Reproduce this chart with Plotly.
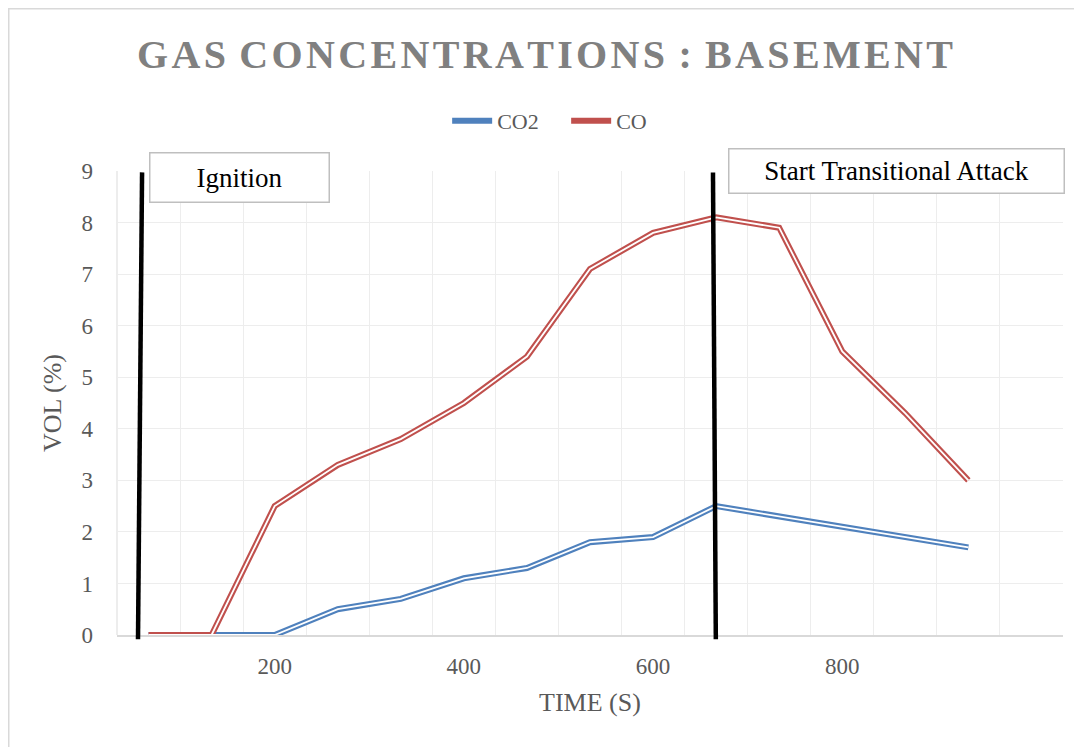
import plotly.graph_objects as go

time_s = [66.7, 133.3, 200, 266.7, 333.3, 400, 466.7, 533.3, 600, 666.7, 733.3, 800, 866.7, 933.3]
co2 = [0.0, 0.0, 0.0, 0.5, 0.7, 1.1, 1.3, 1.8, 1.9, 2.5, 2.3, 2.1, 1.9, 1.7]
co = [0.0, 0.0, 2.5, 3.3, 3.8, 4.5, 5.4, 7.1, 7.8, 8.1, 7.9, 5.5, 4.3, 3.0]
x_ticks = [200, 400, 600, 800]
y_ticks = list(range(0, 10))
title_words = ["GAS", "CONCENTRATIONS", ":", "BASEMENT"]

BLUE = "#4f81bd"
RED = "#c0504d"
FONT = "Liberation Serif"
GRAY_TXT = "#595959"

HS = "&#8202;"  # hair space for letter spacing
title_text = (" " + HS).join(HS.join(list(w)) for w in title_words)

fig = go.Figure()
for name, vals, col in [("CO2", co2, BLUE), ("CO", co, RED)]:
    fig.add_trace(go.Scatter(x=time_s, y=vals, mode="lines", name=name,
                             line=dict(color=col, width=6), legendgroup=name))
for name, vals, col in [("CO2", co2, BLUE), ("CO", co, RED)]:
    fig.add_trace(go.Scatter(x=time_s, y=vals, mode="lines", name=name + " ",
                             line=dict(color="white", width=1.8), showlegend=False,
                             hoverinfo="skip", legendgroup=name))

# event markers (paper coordinates)
events = [
    dict(label="Ignition", x_bot=0.0222, x_top=0.0265, box_x=0.130, box_y=0.985, w=178, h=48),
    dict(label="Start Transitional Attack", x_bot=0.633, x_top=0.630, box_x=0.8235, box_y=1.001, w=334, h=43),
]
for ev in events:
    fig.add_shape(type="line", xref="paper", yref="paper", x0=ev["x_bot"], y0=-0.009,
                  x1=ev["x_top"], y1=0.997, line=dict(color="black", width=4.5), layer="above")
    fig.add_annotation(xref="paper", yref="paper", x=ev["box_x"], y=ev["box_y"],
                       xanchor="center", yanchor="middle", text=ev["label"], showarrow=False,
                       font=dict(family=FONT, size=27, color="black"),
                       bgcolor="white", bordercolor="#bfbfbf", borderwidth=1.5, borderpad=0,
                       width=ev["w"], height=ev["h"])

# outer chart border (cropped on right/bottom)
fig.add_shape(type="rect", xref="paper", yref="paper", x0=-0.1147, y0=-0.30, x1=1.05, y1=1.350,
              line=dict(color="#d9d9d9", width=2), fillcolor="rgba(0,0,0,0)", layer="below")

fig.update_layout(
    width=1074, height=739,
    margin=dict(l=109, r=19, t=163, b=112),
    paper_bgcolor="white", plot_bgcolor="white",
    title=dict(text=title_text,
               x=0.5, xanchor="center", y=0.938, yanchor="middle",
               font=dict(family=FONT, size=40, color="#808080", weight="bold")),
    legend=dict(orientation="h", x=0.349, xanchor="left", y=1.108, yanchor="middle",
                font=dict(family=FONT, size=22, color=GRAY_TXT), itemwidth=40,
                entrywidth=64, bgcolor="rgba(0,0,0,0)"),
    xaxis=dict(range=[33.33, 1033.33], tickmode="array", tickvals=x_ticks,
               ticktext=[str(v) for v in x_ticks], showgrid=False, zeroline=False,
               showline=True, linecolor="#d9d9d9", linewidth=1.5,
               tickfont=dict(family=FONT, size=23, color=GRAY_TXT), ticks="", ticklabelstandoff=10,
               minor=dict(tick0=33.33, dtick=66.667, showgrid=True, gridcolor="#ededed", gridwidth=1.3),
               title=dict(text="TIME (S)", font=dict(family=FONT, size=26, color=GRAY_TXT), standoff=14)),
    yaxis=dict(range=[0, 9], tickmode="array", tickvals=y_ticks, showgrid=True,
               gridcolor="#ededed", gridwidth=1.3, zeroline=False, showline=False,
               tickfont=dict(family=FONT, size=23, color=GRAY_TXT), ticks="", ticklabelstandoff=23,
               title=dict(text="VOL (%)", font=dict(family=FONT, size=26, color=GRAY_TXT), standoff=12)),
)
# left plot-area edge line
fig.add_shape(type="line", xref="paper", yref="paper", x0=0, y0=0, x1=0, y1=1,
              line=dict(color="#e3e3e3", width=1.3), layer="below")

fig.write_html("out.html")
